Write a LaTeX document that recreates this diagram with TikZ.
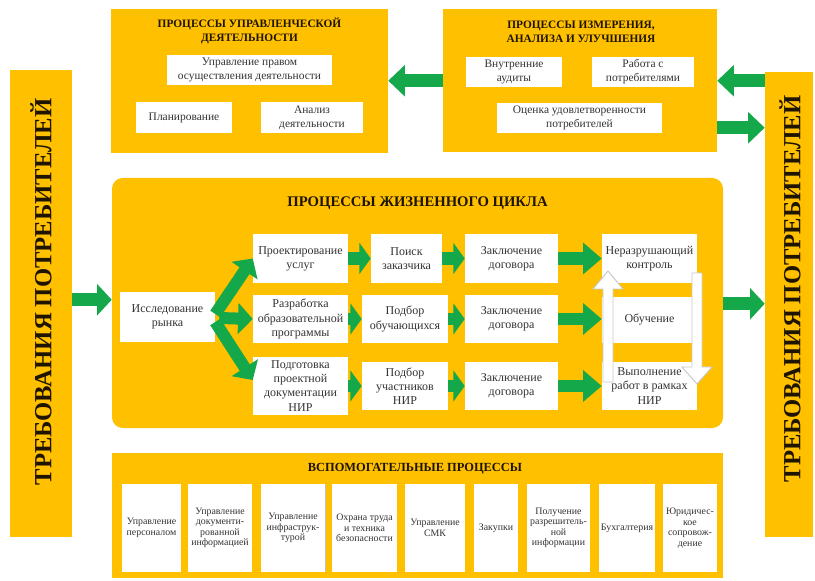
\documentclass[tikz,border=0pt]{standalone}
\usepackage{fontspec}
\setmainfont{Liberation Serif}
\usetikzlibrary{arrows.meta,calc}
\definecolor{yel}{HTML}{FFC000}
\definecolor{grn}{HTML}{14A84B}
\definecolor{ttl}{HTML}{1E1400}
\definecolor{txt}{HTML}{333333}
\newcommand\BX[7]{%
 \pgfmathsetmacro\bxw{(#5-#3)*0.75}%
 \pgfmathsetmacro\bxh{(#6-#4)*0.75}%
 \node[#1,minimum width=\bxw pt,minimum height=\bxh pt] (#2) at ({(#3+#5)/2},{(#4+#6)/2}) {#7};}
\tikzset{
 ybox/.style={fill=yel,draw=none,inner sep=0pt},
 wbox/.style={fill=white,draw=none,inner sep=1pt,align=center,text=txt,font=\fontsize{8.6}{10.5}\selectfont},
 mbox/.style={wbox,font=\fontsize{9}{10.6}\selectfont},
 sbox/.style={wbox,font=\fontsize{7.4}{7.9}\selectfont},
 ttlnode/.style={align=center,text=ttl,inner sep=0pt,font=\bfseries\fontsize{8.5}{10.5}\selectfont},
 vtext/.style={rotate=90,text=ttl,inner sep=0pt,font=\bfseries\fontsize{18.5}{22}\selectfont},
 garrow/.style={draw=grn,line width=9.5pt,-{Triangle[length=#1,width=23pt]}},
 garrow/.default=8.5pt,
 hollow/.style={fill=white,draw=black!22,line width=0.7pt},
}
\begin{document}
\begin{tikzpicture}[x=0.75pt,y=-0.75pt]
\useasboundingbox (0,0) rectangle (815,581);
% frames
\BX{ybox}{mgmt}{111}{9}{388}{153}{}
\BX{ybox}{meas}{443}{9}{717}{152}{}
\BX{ybox}{lcol}{10}{70}{72}{537}{}
\BX{ybox}{rcol}{765}{72}{813}{537}{}
\BX{ybox,rounded corners=8pt}{life}{112}{178}{723}{428}{}
\BX{ybox}{aux}{112}{453}{723}{578}{}
% vertical labels
\node[vtext] (ltxt) at (41,292) {ТРЕБОВАНИЯ ПОТРЕБИТЕЛЕЙ};
\node[vtext] (rtxt) at (790,289) {ТРЕБОВАНИЯ ПОТРЕБИТЕЛЕЙ};
% titles
\node[ttlnode] (t1) at (249.5,31) {ПРОЦЕССЫ УПРАВЛЕНЧЕСКОЙ\\ДЕЯТЕЛЬНОСТИ};
\node[ttlnode] (t2) at (581,31.5) {ПРОЦЕССЫ ИЗМЕРЕНИЯ,\\АНАЛИЗА И УЛУЧШЕНИЯ};
\node[ttlnode,font=\bfseries\fontsize{11}{13}\selectfont] (t3) at (417.5,203) {ПРОЦЕССЫ ЖИЗНЕННОГО ЦИКЛА};
\node[ttlnode,font=\bfseries\fontsize{9.3}{11}\selectfont] (t4) at (415,469) {ВСПОМОГАТЕЛЬНЫЕ ПРОЦЕССЫ};
% top-left inner
\BX{wbox}{pravo}{167}{55}{332}{85}{Управление правом\\осуществления деятельности}
\BX{wbox}{plan}{136}{102}{232}{133}{Планирование}
\BX{wbox}{analiz}{261}{102}{363}{133}{Анализ\\деятельности}
% top-right inner
\BX{wbox}{audit}{466}{57}{562}{87}{Внутренние\\аудиты}
\BX{wbox}{rabota}{592}{57}{694}{87}{Работа с\\потребителями}
\BX{wbox}{ocenka}{497}{103}{662}{133}{Оценка удовлетворенности\\потребителей}
% life cycle
\BX{mbox}{rynok}{120}{292}{215}{342}{Исследование\\рынка}
\BX{mbox}{proekt}{253}{234}{348}{283}{Проектирование\\услуг}
\BX{mbox}{razrab}{253}{295}{348}{343}{Разработка\\образовательной\\программы}
\BX{mbox}{podg}{253}{357}{348}{415}{Подготовка\\проектной\\документации\\НИР}
\BX{mbox}{poisk}{371}{234}{442}{283}{Поиск\\заказчика}
\BX{mbox}{podb1}{362}{295}{448}{343}{Подбор\\обучающихся}
\BX{mbox}{podb2}{362}{362}{448}{410}{Подбор\\участников\\НИР}
\BX{mbox}{zakl1}{465}{234}{558}{283}{Заключение\\договора}
\BX{mbox}{zakl2}{465}{295}{558}{343}{Заключение\\договора}
\BX{mbox}{zakl3}{465}{362}{558}{410}{Заключение\\договора}
\BX{mbox}{nerazr}{602}{234}{697}{283}{Неразрушающий\\контроль}
\BX{mbox}{obuch}{602}{297}{697}{343}{Обучение}
\BX{mbox}{vypol}{602}{362}{697}{410}{Выполнение\\работ в рамках\\НИР}
% auxiliary
\BX{sbox}{pers}{122}{484}{181}{572}{Управление\\персоналом}
\BX{sbox}{docum}{188}{484}{252}{572}{Управление\\документи-\\рованной\\информацией}
\BX{sbox}{infra}{261}{484}{325}{572}{Управление\\инфраструк-\\турой}
\BX{sbox}{ohrana}{332}{484}{397}{572}{Охрана труда\\и техника\\безопасности}
\BX{sbox}{smk}{405}{484}{465}{572}{Управление\\СМК}
\BX{sbox}{zakup}{474}{484}{518}{572}{Закупки}
\BX{sbox}{razresh}{527}{484}{590}{572}{Получение\\разрешитель-\\ной\\информации}
\BX{sbox}{buh}{599}{484}{655}{572}{Бухгалтерия}
\BX{sbox}{jur}{663}{484}{717}{572}{Юридичес-\\кое\\сопровож-\\дение}
\draw[black!25,line width=0.7pt] (infra.north east) -- (infra.south east);
% green arrows: top
\coordinate (r1) at ($(rcol.north west)+(0,9)$);
\coordinate (r2) at ($(meas.north east)+(0,119)$);
\coordinate (m1) at ($(meas.north west)+(0,72)$);
\draw[garrow=12.5pt] (r1) -- (r1 -| meas.east);
\draw[garrow=12.5pt] (r2) -- (r2 -| rcol.west);
\draw[garrow=12.5pt] (m1) -- (m1 -| mgmt.east);
% in / out of life cycle
\coordinate (l1) at ($(lcol.north east)+(0,230)$);
\coordinate (o1) at ($(life.north east)+(0,126)$);
\draw[garrow=11pt] (l1) -- (l1 -| life.west);
\draw[garrow=11pt] (o1) -- (o1 -| rcol.west);
% branches
\draw[garrow=11pt,line width=9pt] ($(rynok.east)+(0,-3)$) -- (proekt.west);
\draw[garrow=11pt,line width=9pt] ($(rynok.east)+(4,1)$) -- (razrab.west);
\draw[garrow=11pt,line width=9pt] ($(rynok.east)+(0,5)$) -- ($(podg.west)+(0,-6)$);
% rows
\draw[garrow] (proekt.east) -- (poisk.west);
\draw[garrow] (poisk.east) -- (zakl1.west);
\draw[garrow=14pt] (zakl1.east) -- (nerazr.west);
\draw[garrow] (razrab.east) -- (podb1.west);
\draw[garrow] (podb1.east) -- (zakl2.west);
\draw[garrow=14pt] (zakl2.east) -- (obuch.west |- zakl2.east);
\draw[garrow] (podg.east) -- (podb2.west |- podg.east);
\draw[garrow] (podb2.east) -- (zakl3.west);
\draw[garrow=14pt] (zakl3.east) -- (vypol.west);
% hollow arrows
\path[hollow] (608,271) -- (623,289) -- (613,289) -- (613,382) -- (603,382) -- (603,289) -- (593,289) -- cycle;
\path[hollow] (692,273) -- (702,273) -- (702,367) -- (712,367) -- (697,384) -- (682,367) -- (692,367) -- cycle;
\end{tikzpicture}
\end{document}
